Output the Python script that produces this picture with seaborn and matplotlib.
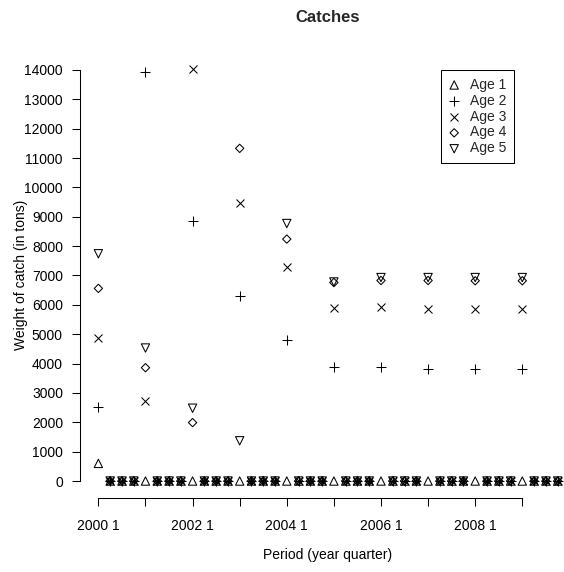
import matplotlib
matplotlib.use("Agg")
import matplotlib.pyplot as plt
import numpy as np
import pandas as pd
import seaborn as sns

# Catch by age group, one value per quarter (2000 Q1 .. 2009 Q4)
years = [2000, 2001, 2002, 2003, 2004, 2005, 2006, 2007, 2008, 2009]
quarters = [1, 2, 3, 4]
age_labels = ["Age 1", "Age 2", "Age 3", "Age 4", "Age 5"]

age1 = [600, 0, 0, 0,
        0, 0, 0, 0,
        0, 0, 0, 0,
        0, 0, 0, 0,
        0, 0, 0, 0,
        0, 0, 0, 0,
        0, 0, 0, 0,
        0, 0, 0, 0,
        0, 0, 0, 0,
        0, 0, 0, 0]
age2 = [2530, 0, 0, 0,
        13940, 0, 0, 0,
        8860, 0, 0, 0,
        6290, 0, 0, 0,
        4790, 0, 0, 0,
        3870, 0, 0, 0,
        3870, 0, 0, 0,
        3830, 0, 0, 0,
        3820, 0, 0, 0,
        3810, 0, 0, 0]
age3 = [4860, 0, 0, 0,
        2720, 0, 0, 0,
        14030, 0, 0, 0,
        9460, 0, 0, 0,
        7280, 0, 0, 0,
        5890, 0, 0, 0,
        5920, 0, 0, 0,
        5870, 0, 0, 0,
        5850, 0, 0, 0,
        5850, 0, 0, 0]
age4 = [6560, 0, 0, 0,
        3860, 0, 0, 0,
        1990, 0, 0, 0,
        11330, 0, 0, 0,
        8240, 0, 0, 0,
        6760, 0, 0, 0,
        6830, 0, 0, 0,
        6830, 0, 0, 0,
        6820, 0, 0, 0,
        6820, 0, 0, 0]
age5 = [7740, 0, 0, 0,
        4530, 0, 0, 0,
        2480, 0, 0, 0,
        1370, 0, 0, 0,
        8770, 0, 0, 0,
        6780, 0, 0, 0,
        6930, 0, 0, 0,
        6930, 0, 0, 0,
        6930, 0, 0, 0,
        6930, 0, 0, 0]

x_tick_values = [2000, 2001, 2002, 2003, 2004, 2005, 2006, 2007, 2008, 2009]
x_tick_labels = ["2000 1", "", "2002 1", "", "2004 1", "", "2006 1", "", "2008 1", ""]
y_tick_values = [0, 1000, 2000, 3000, 4000, 5000, 6000, 7000,
                 8000, 9000, 10000, 11000, 12000, 13000, 14000]

series = [age1, age2, age3, age4, age5]

# long table: one row per (period, age)
period = [y + (q - 1) / 4 for y in years for q in quarters]
df = pd.concat(
    [pd.DataFrame({"period": period, "catch": vals, "age": lab})
     for lab, vals in zip(age_labels, series)],
    ignore_index=True,
)

sns.set_theme(style="ticks")
plt.rcParams["font.family"] = ["Liberation Sans", "DejaVu Sans"]
plt.rcParams["font.size"] = 10

fig = plt.figure(figsize=(5.64, 5.72), dpi=100)
W, H = 564, 572
# plot region in pixels: left 80, right 576, top 52.6, bottom 497.5
ax = fig.add_axes([80 / W, (H - 497.5) / H, 496 / W, (497.5 - 52.6) / H])

marker_spec = {
    "Age 1": dict(marker="^", s=36, facecolor="none", edgecolor="black"),
    "Age 2": dict(marker="+", s=52, color="black"),
    "Age 3": dict(marker="x", s=33, color="black"),
    "Age 4": dict(marker="D", s=18, facecolor="none", edgecolor="black"),
    "Age 5": dict(marker="v", s=36, facecolor="none", edgecolor="black"),
}

for lab in age_labels:
    sub = df[df["age"] == lab]
    sns.scatterplot(data=sub, x="period", y="catch", ax=ax, label=lab,
                    linewidth=0.75, legend=False, **marker_spec[lab])

span_x = (max(period) - min(period)) * 0.04
ax.set_xlim(min(period) - span_x, max(period) + span_x)
ymax = max(max(s) for s in series)
ax.set_ylim(-0.04 * ymax, ymax * 1.04)

ax.set_xticks(x_tick_values)
ax.set_xticklabels(x_tick_labels)
ax.set_yticks(y_tick_values)
ax.set_yticklabels([str(v) for v in y_tick_values])

for side in ["top", "right"]:
    ax.spines[side].set_visible(False)
ax.spines["left"].set_bounds(0, 14000)
ax.spines["bottom"].set_bounds(2000, 2009)
for side in ["left", "bottom"]:
    ax.spines[side].set_linewidth(0.75)
    ax.spines[side].set_color("black")
ax.tick_params(axis="both", direction="out", length=5.8, width=0.75,
               color="black", labelsize=10, labelcolor="black")
ax.tick_params(axis="x", pad=10)
ax.tick_params(axis="y", pad=6.5)
ax.grid(False)

ax.set_xlabel("Period (year quarter)", fontsize=10, color="black")
ax.set_ylabel("Weight of catch (in tons)", fontsize=10, color="black")
ax.xaxis.set_label_coords(0.5, (497.5 - 548) / (497.5 - 52.6))
ax.yaxis.set_label_coords((28 - 80) / 496, 0.5)

fig.text(328 / W, 1 - 17 / H, "Catches", ha="center", va="center",
         fontsize=12, fontweight="bold")

leg = ax.legend(loc="upper left", bbox_to_anchor=(441 / W, 1 - 70 / H),
                bbox_transform=fig.transFigure, borderaxespad=0,
                frameon=True, fancybox=False, framealpha=1,
                edgecolor="black", fontsize=10, borderpad=0.55,
                handlelength=0.8, handletextpad=0.72, labelspacing=0.14,
                scatterpoints=1)
leg.get_frame().set_linewidth(0.75)

fig.savefig("out.png", dpi=100)
